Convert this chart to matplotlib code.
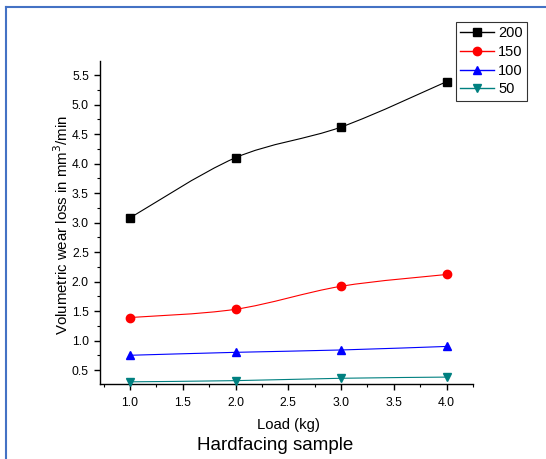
import numpy as np
import matplotlib
matplotlib.use("Agg")
import matplotlib.pyplot as plt
from matplotlib.path import Path
from matplotlib.patches import PathPatch
from matplotlib.lines import Line2D
from matplotlib.ticker import MultipleLocator

plt.rcParams['font.family'] = ['Liberation Sans', 'DejaVu Sans']

load = [1.0, 2.0, 3.0, 4.0]
wear_200 = [3.08, 4.10, 4.62, 5.39]
wear_150 = [1.39, 1.53, 1.92, 2.12]
wear_100 = [0.75, 0.80, 0.84, 0.90]
wear_50 = [0.30, 0.32, 0.36, 0.38]

series = [
    ("200", wear_200, "black", "s"),
    ("150", wear_150, "red", "o"),
    ("100", wear_100, "blue", "^"),
    ("50", wear_50, "#008080", "v"),
]


def smooth_path(x, y):
    # catmull-rom -> cubic bezier, drawn by matplotlib's Path
    pts = np.column_stack([x, y])
    ext = np.vstack([pts[0], pts, pts[-1]])
    verts = [tuple(pts[0])]
    codes = [Path.MOVETO]
    for i in range(1, len(ext) - 2):
        p0, p1, p2, p3 = ext[i - 1], ext[i], ext[i + 1], ext[i + 2]
        c1 = p1 + (p2 - p0) / 6.0
        c2 = p2 - (p3 - p1) / 6.0
        verts += [tuple(c1), tuple(c2), tuple(p2)]
        codes += [Path.CURVE4] * 3
    return Path(verts, codes)


fig = plt.figure(figsize=(5.46, 4.59), dpi=100)
ax = fig.add_axes([100 / 546, 1 - 384 / 459, 373 / 546, 323 / 459])

handles = []
for name, vals, col, mk in series:
    ax.add_patch(PathPatch(smooth_path(load, vals), facecolor="none",
                           edgecolor=col, lw=0.8, zorder=2))
    ax.plot(load, vals, ls="none", marker=mk, color=col, ms=6, zorder=3, clip_on=False)
    handles.append(Line2D([], [], color=col, lw=1.0, marker=mk, ms=6))

ax.set_xlim(0.716, 4.25)
ax.set_ylim(0.263, 5.74)
ax.xaxis.set_major_locator(MultipleLocator(0.5))
ax.xaxis.set_minor_locator(MultipleLocator(0.25))
ax.yaxis.set_major_locator(MultipleLocator(0.5))
ax.yaxis.set_minor_locator(MultipleLocator(0.25))
ax.set_xticks([1.0, 1.5, 2.0, 2.5, 3.0, 3.5, 4.0])
ax.set_xticklabels(["1.0", "1.5", "2.0", "2.5", "3.0", "3.5", "4.0"])
ax.set_yticks([0.5, 1.0, 1.5, 2.0, 2.5, 3.0, 3.5, 4.0, 4.5, 5.0, 5.5])
ax.set_yticklabels(["0.5", "1.0", "1.5", "2.0", "2.5", "3.0", "3.5", "4.0", "4.5", "5.0", "5.5"])

for s in ["top", "right"]:
    ax.spines[s].set_visible(False)
for s in ["left", "bottom"]:
    ax.spines[s].set_linewidth(1.0)
ax.tick_params(which="major", direction="out", length=4.5, width=1.0, labelsize=8.7)
ax.tick_params(axis="x", which="major", pad=5)
ax.tick_params(which="minor", direction="out", length=2.5, width=0.8)

fig.text(62 / 546, 1 - 225 / 459, "Volumetric wear loss in mm$^3$/min",
         rotation=90, ha="center", va="center", fontsize=10.8)
fig.text(288 / 546, 1 - 425 / 459, "Load (kg)", ha="center", va="center", fontsize=10.7)
fig.text(275 / 546, 1 - 446 / 459, "Hardfacing sample", ha="center", va="center", fontsize=13.5)

leg = fig.legend(handles, [s[0] for s in series], loc="upper right",
                 bbox_to_anchor=(527 / 546, 1 - 22 / 459), fontsize=10.5,
                 frameon=True, fancybox=False, handlelength=2.3,
                 handletextpad=0.3, labelspacing=0.32, borderpad=0.3,
                 borderaxespad=0.0)
leg.get_frame().set_edgecolor("black")
leg.get_frame().set_linewidth(0.8)

# blue frame around the figure
fig.add_artist(Line2D([6 / 546, 6 / 546], [0, 1 - 7 / 459], color="#4472C4", lw=1.5))
fig.add_artist(Line2D([6 / 546, 1], [1 - 7 / 459, 1 - 7 / 459], color="#4472C4", lw=1.5))

fig.savefig("out.png", dpi=100)
